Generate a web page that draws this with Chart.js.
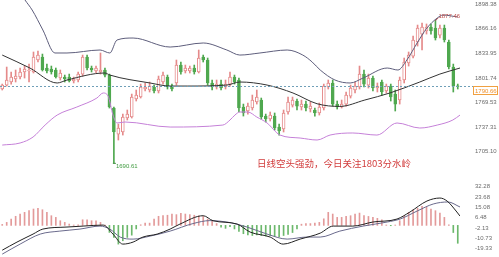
<!DOCTYPE html>
<html>
<head>
<meta charset="utf-8">
<script src="https://cdn.jsdelivr.net/npm/chart.js@4.4.0/dist/chart.umd.min.js"></script>
<style>
  html, body { margin: 0; padding: 0; background: #fff; }
  #wrap { position: relative; width: 499px; height: 257px; overflow: hidden; }
  #kline { position: absolute; left: 0; top: 0; }
  #macd { position: absolute; left: 0; top: 175px; }
</style>
</head>
<body>
<div id="wrap">
  <canvas id="kline" width="499" height="175"></canvas>
  <canvas id="macd" width="499" height="82"></canvas>
</div>
<script>
// daily candles
const open = [
  1787.3, 1792.5, 1796.5, 1800.4, 1803.0, 1809.6, 1810.9, 1809.6, 1825.3, 1829.2,
  1814.8, 1813.5, 1812.2, 1801.7, 1803.0, 1803.0, 1797.8, 1799.1, 1806.9, 1829.2,
  1814.8, 1810.9, 1809.6, 1812.2, 1805.6, 1762.4, 1728.3, 1731.0, 1749.3, 1750.6,
  1774.2, 1776.8, 1787.3, 1786.0, 1789.9, 1784.7, 1796.5, 1803.0, 1791.2, 1795.2,
  1818.7, 1810.9, 1810.9, 1814.8, 1809.6, 1829.2, 1825.3, 1795.2, 1789.9, 1793.8,
  1789.9, 1793.8, 1803.0, 1799.1, 1763.7, 1758.5, 1762.4, 1770.3, 1772.9, 1751.9,
  1748.0, 1751.9, 1737.5, 1734.9, 1757.2, 1766.3, 1771.6, 1763.7, 1767.6, 1761.1,
  1759.8, 1755.9, 1762.4, 1789.9, 1795.2, 1767.6, 1763.7, 1767.6, 1778.1, 1786.0,
  1789.9, 1806.9, 1792.5, 1801.7, 1788.6, 1796.5, 1784.7, 1791.2, 1780.7, 1772.9,
  1799.1, 1821.4, 1830.5, 1848.9, 1859.3, 1863.3, 1868.5, 1867.2, 1858.0, 1867.2,
  1848.9, 1816.1, 1791.5
];
const close = [
  1792.5, 1799.1, 1803.0, 1804.3, 1809.6, 1813.5, 1812.2, 1829.2, 1831.8, 1812.2,
  1810.9, 1809.6, 1803.0, 1808.3, 1800.4, 1797.8, 1800.4, 1806.9, 1829.2, 1814.8,
  1812.2, 1814.8, 1812.2, 1805.6, 1763.7, 1731.0, 1736.2, 1750.6, 1754.5, 1776.8,
  1779.4, 1789.9, 1789.9, 1791.2, 1784.7, 1800.4, 1805.6, 1789.9, 1787.3, 1818.7,
  1809.6, 1814.8, 1814.8, 1809.6, 1827.9, 1825.3, 1795.2, 1789.9, 1793.8, 1788.6,
  1793.8, 1803.0, 1796.5, 1762.4, 1755.9, 1765.0, 1772.9, 1776.8, 1750.6, 1748.0,
  1753.2, 1736.2, 1732.3, 1755.9, 1770.3, 1772.9, 1765.0, 1767.6, 1762.4, 1765.0,
  1755.9, 1763.7, 1791.2, 1795.2, 1767.6, 1763.7, 1767.6, 1779.4, 1788.6, 1791.2,
  1806.9, 1793.8, 1801.7, 1788.6, 1791.2, 1783.4, 1791.2, 1776.8, 1767.6, 1799.1,
  1822.7, 1831.8, 1851.5, 1867.2, 1868.5, 1868.5, 1863.3, 1854.1, 1867.2, 1851.5,
  1816.1, 1791.2, 1790.66
];
const high = [
  1793.8, 1816.1, 1809.6, 1812.2, 1814.8, 1817.4, 1820.0, 1835.8, 1837.1, 1833.1,
  1820.0, 1817.4, 1814.8, 1812.2, 1805.6, 1806.9, 1803.0, 1809.6, 1831.8, 1831.8,
  1817.4, 1817.4, 1834.5, 1814.8, 1806.9, 1763.7, 1741.4, 1754.5, 1759.8, 1780.7,
  1786.0, 1793.8, 1795.2, 1796.5, 1792.5, 1804.3, 1809.6, 1805.6, 1793.8, 1825.3,
  1822.7, 1818.7, 1817.4, 1818.7, 1838.4, 1831.8, 1827.9, 1799.1, 1799.1, 1799.1,
  1799.1, 1809.6, 1805.6, 1801.7, 1767.6, 1769.0, 1779.4, 1786.0, 1775.5, 1754.5,
  1757.2, 1755.9, 1741.4, 1759.8, 1776.8, 1776.8, 1774.2, 1772.9, 1771.6, 1770.3,
  1762.4, 1769.0, 1793.8, 1799.1, 1799.1, 1771.6, 1772.9, 1783.4, 1792.5, 1796.5,
  1817.4, 1812.2, 1806.9, 1804.3, 1795.2, 1799.1, 1793.8, 1793.8, 1786.0, 1803.0,
  1827.9, 1835.8, 1856.7, 1871.1, 1873.8, 1872.5, 1872.5, 1877.46, 1871.1, 1871.1,
  1851.5, 1820.0, 1793.8
];
const low = [
  1786.0, 1791.2, 1793.8, 1796.5, 1800.4, 1801.7, 1796.5, 1808.3, 1822.7, 1810.9,
  1808.3, 1806.9, 1801.7, 1799.1, 1796.5, 1796.5, 1795.2, 1796.5, 1804.3, 1812.2,
  1809.6, 1808.3, 1806.9, 1803.0, 1762.4, 1690.61, 1720.5, 1727.0, 1746.7, 1749.3,
  1771.6, 1775.5, 1784.7, 1783.4, 1782.1, 1782.1, 1793.8, 1787.3, 1784.7, 1792.5,
  1806.9, 1808.3, 1808.3, 1806.9, 1808.3, 1822.7, 1792.5, 1786.0, 1787.3, 1786.0,
  1787.3, 1791.2, 1793.8, 1757.2, 1751.9, 1754.5, 1759.8, 1767.6, 1748.0, 1744.1,
  1745.4, 1733.6, 1727.0, 1731.0, 1754.5, 1763.7, 1759.8, 1759.8, 1758.5, 1757.2,
  1751.9, 1753.2, 1759.8, 1787.3, 1765.0, 1761.1, 1762.4, 1765.0, 1775.5, 1782.1,
  1787.3, 1789.9, 1788.6, 1784.7, 1783.4, 1779.4, 1782.1, 1771.6, 1758.5, 1767.6,
  1795.2, 1817.4, 1827.9, 1843.6, 1838.4, 1859.3, 1859.3, 1851.5, 1854.1, 1848.9,
  1813.5, 1783.4, 1787.3
];

// Bollinger bands, read at a few candle positions
const upperIdx = [0, 5.1, 6.7, 9.1, 11.8, 14.5, 21.9, 24.1, 25.7, 29.3, 37.6, 45, 50.3, 53.2, 57.7,
  63.8, 67.3, 69.4, 71.2, 74.5, 77.9, 80.8, 86.2, 88.6, 90.6, 92.9, 95.1, 97.4, 98.7, 102];
const upperVal = [1949.7, 1903.9, 1890.8, 1864.6, 1834.5, 1834.5, 1838.4, 1834.5, 1851.5, 1854.1, 1842.3,
  1847.6, 1838.4, 1831.8, 1834.5, 1838.4, 1831.8, 1822.7, 1812.2, 1799.1, 1795.2, 1801.7, 1814.8,
  1812.2, 1825.3, 1847.6, 1867.2, 1880.3, 1884.2, 1881.6];
const middleIdx = [0, 6.2, 12.3, 14.5, 23, 24.1, 33.1, 37.6, 41.4, 50.3, 53.2, 59.3, 65.1, 70.5,
  75.6, 81.2, 86.8, 93.5, 98, 102.5];
const middleVal = [1831.8, 1814.8, 1795.2, 1799.1, 1808.3, 1805.6, 1795.2, 1791.2, 1791.2, 1792.5,
  1796.5, 1792.5, 1782.1, 1768.0, 1764.5, 1772.9, 1782.1, 1796.5, 1806.9, 1814.8];
const lowerIdx = [0, 4, 6.9, 9.6, 12.3, 16.7, 21.2, 22.6, 23.7, 24.8, 25.7, 27.5, 37.6, 49.4, 51,
  52.1, 53.2, 55, 57, 59.3, 62.2, 66.7, 70.5, 73.4, 78.5, 83.9, 88.4, 93.5, 97.4, 100.9, 102.5];
const lowerVal = [1713.9, 1716.6, 1724.4, 1740.1, 1753.2, 1763.7, 1775.5, 1782.1, 1778.1, 1753.2,
  1742.8, 1744.1, 1737.5, 1740.1, 1746.7, 1753.2, 1757.2, 1757.2, 1750.6, 1742.8, 1727.0, 1723.1,
  1720.5, 1727.0, 1729.7, 1727.0, 1742.8, 1736.2, 1740.1, 1746.7, 1753.2];

// MACD panel
const macdHist = [
  0.8, 2.5, 5.3, 7.6, 9.5, 10.9, 12.3, 13.7, 14.3, 13.1,
  10.9, 8.1, 6.7, 3.9, 2.5, 1.1, 0.3, 0.5, 4.7, 4.7,
  3.9, 3.9, 2.5, 0.3, -5.9, -10.1, -15.7, -12.9, -10.1, -8.2,
  -3.0, 0.5, 1.9, 1.9, 5.3, 7.6, 8.1, 8.5, 9.5, 9.0,
  10.1, 9.5, 9.0, 8.5, 8.0, 7.5, 5.3, 3.9, 1.5, -1.5,
  -2.5, -1.0, -3.0, -5.0, -7.0, -8.0, -8.5, -8.0, -8.5, -9.0,
  -8.5, -9.0, -9.5, -8.5, -7.5, -6.0, -3.0, 1.0, 1.5, 1.5,
  2.0, 2.5, 5.5, 10.9, 9.5, 6.7, 6.7, 7.5, 8.1, 9.5,
  10.3, 8.1, 7.5, 6.7, 5.9, 4.7, 0.3, -0.3, 0.3, 3.9,
  8.1, 10.9, 13.1, 14.3, 15.9, 15.1, 13.7, 12.3, 10.3, 6.7,
  0.5, -6.0, -15.0
];
const difIdx = [0, 3.3, 6.9, 9.1, 14.5, 18.1, 22.6, 24.8, 27.0, 29.3, 31.5, 34.7, 37.6, 39.8, 45,
  47.2, 52.6, 55.5, 60, 62.9, 66.7, 71.2, 74.1, 78.5, 83, 88.4, 91.3, 95.1, 98, 99.6, 101.8, 102.5];
const difVal = [-20.8, -14.0, -7.3, -3.1, -1.4, -0.6, 0.25, -7.3, -15.7, -14.0, -9.8, -7.3, -3.1, 1.1,
  8.1, 3.9, 1.1, -5.6, -9.8, -15.7, -11.5, -6.5, -0.6, -0.6, 2.8, 5.3, 11.2, 20.4, 22.9, 20.4, 11.2, 7.8];
const deaIdx = [0, 4, 8.5, 12.9, 17.4, 21.9, 24.1, 26.4, 29.3, 33.1, 37.6, 42.7, 46.5, 50.3, 54.8,
  59.3, 63.8, 68.2, 71.2, 75.6, 80.8, 86.2, 89.1, 92.9, 96.5, 99.8, 102.5];
const deaVal = [-24.1, -15.7, -7.3, -4.8, -3.1, -0.6, -3.1, -9.8, -11.5, -9.0, -4.8, 1.5, 4.0, 2.8,
  -1.4, -7.3, -11.5, -9.8, -9.8, -4.8, -0.6, 2.8, 5.3, 12.0, 17.9, 19.6, 15.4];

// axis labels as printed
const priceTicks = [1898.38, 1866.16, 1833.95, 1801.74, 1769.53, 1737.31, 1705.10];
const macdTicks = [32.28, 23.68, 15.08, 6.48, -2.13, -10.73, -19.33];

const note = '日线空头强劲，今日关注1803分水岭';

const UP = '#e58a8a';
const DOWN = '#4fa84f';
const LABEL_FONT = '6px "Liberation Sans", Arial, sans-serif';

function pts(xs, ys) {
  return xs.map((x, i) => ({ x: x, y: ys[i] }));
}

function rightAxis(min, max, ticks) {
  return {
    position: 'right', min: min, max: max,
    grid: { display: false, drawTicks: false },
    border: { display: false },
    afterBuildTicks: s => { s.ticks = ticks.map(v => ({ value: v })); },
    afterFit: s => { s.width = 39; s.paddingTop = 0; s.paddingBottom = 0; },
    ticks: {
      autoSkip: false, padding: 15, color: '#6b6b6b',
      font: { size: 6, family: '"Liberation Sans", Arial, sans-serif' },
      callback: v => Number(v).toFixed(2)
    }
  };
}

function xAxis() {
  return { type: 'linear', min: -0.5, max: open.length - 0.5, offset: false, display: false };
}

function bandLine(xs, ys, color) {
  return {
    type: 'line', data: pts(xs, ys), borderColor: color, borderWidth: 1,
    pointRadius: 0, cubicInterpolationMode: 'monotone', order: 0
  };
}

const idx = open.map((_, i) => i);
const rising = i => close[i] >= open[i];

// high / low markers, the note and the last price tag
const klineMarks = {
  id: 'klineMarks',
  afterDatasetsDraw(chart) {
    const { ctx, chartArea, scales } = chart;
    const x = scales.x, y = scales.y;
    ctx.save();
    ctx.font = LABEL_FONT;
    ctx.textBaseline = 'middle';

    const hi = high.indexOf(Math.max(...high));
    const hx = x.getPixelForValue(hi), hy = y.getPixelForValue(high[hi]);
    ctx.strokeStyle = '#b05050';
    ctx.lineWidth = 1;
    ctx.beginPath(); ctx.moveTo(hx, hy + 0.5); ctx.lineTo(hx + 3, hy - 2.5); ctx.stroke();
    ctx.fillStyle = '#c0504d';
    ctx.fillText(high[hi].toFixed(2), hx + 3, hy - 4);

    const lo = low.indexOf(Math.min(...low));
    const lx = x.getPixelForValue(lo), ly = y.getPixelForValue(low[lo]);
    ctx.strokeStyle = '#3c8c3c';
    ctx.beginPath(); ctx.moveTo(lx - 1, ly + 0.5); ctx.lineTo(lx + 2, ly + 0.5); ctx.stroke();
    ctx.fillStyle = '#3f9a3f';
    ctx.fillText(low[lo].toFixed(2), lx + 2, ly + 3.5);

    const last = close[close.length - 1];
    const py = Math.round(y.getPixelForValue(last)) + 0.5;
    ctx.strokeStyle = '#6f9fb8';
    ctx.setLineDash([2, 2]);
    ctx.beginPath(); ctx.moveTo(chartArea.left, py); ctx.lineTo(chartArea.right + 13, py); ctx.stroke();
    ctx.setLineDash([]);
    ctx.fillStyle = '#fff';
    ctx.fillRect(473.5, py, 24, 8);
    ctx.strokeStyle = '#f0a040';
    ctx.strokeRect(473.5, py, 24, 8);
    ctx.fillStyle = '#f0902a';
    ctx.fillText(last.toFixed(2), 475, py + 4.5);

    ctx.font = '9.5px "Noto Sans CJK SC", sans-serif';
    ctx.fillStyle = '#d23c3c';
    ctx.fillText(note, 257, 163);
    ctx.restore();
  }
};

new Chart(document.getElementById('kline'), {
  type: 'bar',
  data: {
    datasets: [
      bandLine(upperIdx, upperVal, '#5e5e7c'),
      bandLine(middleIdx, middleVal, '#333333'),
      bandLine(lowerIdx, lowerVal, '#c580d8'),
      {
        // candle bodies: hollow when rising, filled when falling
        data: idx.map(i => ({ x: i, y: [Math.min(open[i], close[i]), Math.max(open[i], close[i])] })),
        backgroundColor: c => rising(c.dataIndex) ? '#ffffff' : DOWN,
        borderColor: c => rising(c.dataIndex) ? UP : DOWN,
        borderWidth: 1, borderSkipped: false, barThickness: 3, grouped: false, order: 1
      },
      {
        // wicks
        data: idx.map(i => ({ x: i, y: [low[i], high[i]] })),
        backgroundColor: c => rising(c.dataIndex) ? UP : DOWN,
        borderWidth: 0, barThickness: 1, grouped: false, order: 2
      }
    ]
  },
  options: {
    responsive: false, animation: false,
    layout: { padding: 0 },
    plugins: { legend: { display: false }, tooltip: { enabled: false } },
    scales: { x: xAxis(), y: rightAxis(1674.67, 1903.92, priceTicks) }
  },
  plugins: [klineMarks]
});

new Chart(document.getElementById('macd'), {
  type: 'bar',
  data: {
    datasets: [
      {
        type: 'line', data: pts(difIdx, difVal), borderColor: '#222222', borderWidth: 1,
        pointRadius: 0, cubicInterpolationMode: 'monotone', order: 0
      },
      {
        type: 'line', data: pts(deaIdx, deaVal), borderColor: '#6a6a8c', borderWidth: 1,
        pointRadius: 0, cubicInterpolationMode: 'monotone', order: 0
      },
      {
        data: idx.map(i => ({ x: i, y: macdHist[i] })),
        backgroundColor: c => macdHist[c.dataIndex] >= 0 ? '#e39a9a' : '#6cb86c',
        borderWidth: 0, barThickness: 1, grouped: false, order: 1
      }
    ]
  },
  options: {
    responsive: false, animation: false,
    layout: { padding: 0 },
    plugins: { legend: { display: false }, tooltip: { enabled: false } },
    scales: { x: xAxis(), y: rightAxis(-26.5, 42.2, macdTicks) }
  }
});
</script>
</body>
</html>
